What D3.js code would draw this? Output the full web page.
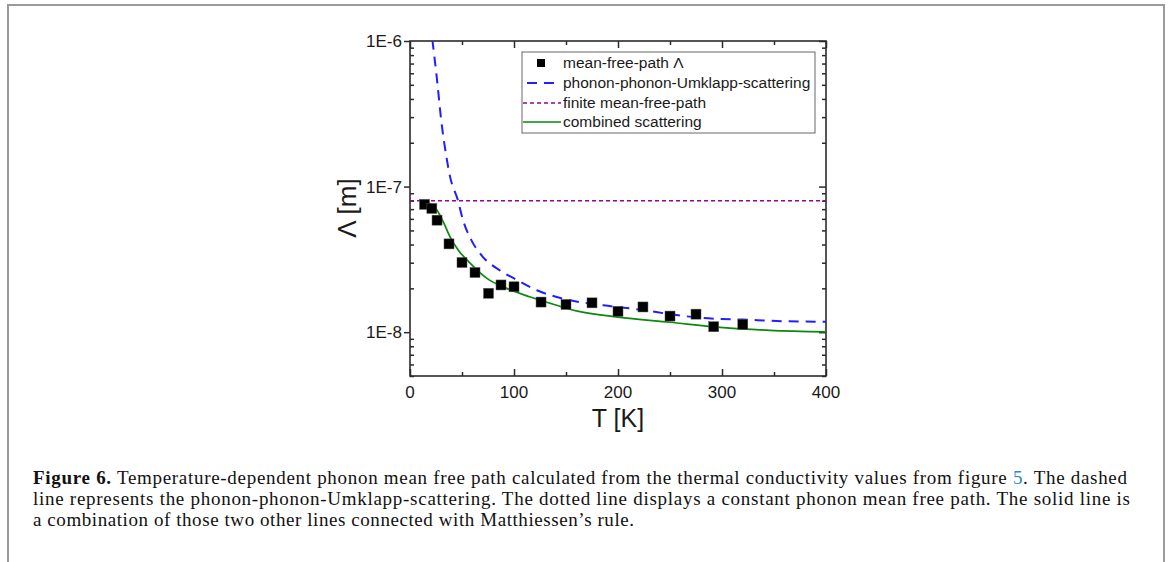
<!DOCTYPE html>
<html>
<head>
<meta charset="utf-8">
<script src="https://cdn.jsdelivr.net/npm/d3@7/dist/d3.min.js"></script>
<style>
  body { margin: 0; background: #fff; }
  svg { display: block; }
</style>
</head>
<body>
<div id="graph"></div>
<script>
const W = 1171
const H = 562

// measured mean free path
const tempK = [14, 21, 26, 37.5, 50, 62.5, 75.5, 87.5, 100, 126, 150, 175, 200, 224, 250, 275, 292, 320]
const mfp = [7.55e-8, 7.08e-8, 5.88e-8, 4.04e-8, 3.01e-8, 2.57e-8, 1.85e-8, 2.11e-8, 2.05e-8, 1.61e-8,
             1.55e-8, 1.59e-8, 1.39e-8, 1.49e-8, 1.29e-8, 1.33e-8, 1.09e-8, 1.13e-8]

// phonon-phonon-Umklapp-scattering (dashed)
const umklappT = [21.5, 26, 30, 35, 38.5, 46, 51, 59, 70, 86, 103, 122, 147, 186, 224, 250, 282, 320, 359, 400]
const umklappL = [1.02e-6, 5.4e-7, 2.86e-7, 1.6e-7, 1.17e-7, 8.08e-8, 5.88e-8, 4.29e-8, 3.29e-8, 2.67e-8,
                  2.28e-8, 1.94e-8, 1.7e-8, 1.53e-8, 1.42e-8, 1.33e-8, 1.25e-8, 1.22e-8, 1.19e-8, 1.18e-8]

// finite mean-free-path (dotted)
const finiteT = [0, 400]
const finiteL = [8e-8, 8e-8]

// combined scattering (solid)
const combinedT = [11, 19, 26, 32, 38.5, 46.5, 58, 74, 93, 115, 141, 160, 200, 250, 298, 346, 400]
const combinedL = [7.98e-8, 7.67e-8, 6.89e-8, 5.73e-8, 4.52e-8, 3.66e-8, 2.97e-8, 2.34e-8, 2.0e-8, 1.75e-8,
                   1.53e-8, 1.4e-8, 1.27e-8, 1.17e-8, 1.08e-8, 1.03e-8, 1.005e-8]

const xTicks = [0, 100, 200, 300, 400]
const yTicks = [1e-8, 1e-7, 1e-6]
const yTickLabels = ['1E-8', '1E-7', '1E-6']

const legendNames = ['mean-free-path \u039B', 'phonon-phonon-Umklapp-scattering', 'finite mean-free-path', 'combined scattering']

const captionLines = [
  [['b', 'Figure 6.'], ['n', ' Temperature-dependent phonon mean free path calculated from the thermal conductivity values from figure '], ['l', '5'], ['n', '. The dashed']],
  [['n', 'line represents the phonon-phonon-Umklapp-scattering. The dotted line displays a constant phonon mean free path. The solid line is']],
  [['n', 'a combination of those two other lines connected with Matthiessen\u2019s rule.']]
]

const plot = { left: 410, top: 41, right: 826, bottom: 376 }
const AXIS = '#2b2b2b'
const SANS = 'Liberation Sans, Arial, sans-serif'

const svg = d3.select('#graph').append('svg')
  .attr('width', W).attr('height', H)

// page frame
svg.append('path')
  .attr('d', `M8,${H + 5} L8,5 L1164,5 L1164,${H + 5}`)
  .attr('fill', 'none').attr('stroke', '#9a9a9a').attr('stroke-width', 2)

const x = d3.scaleLinear().domain([0, 400]).range([plot.left, plot.right])
const y = d3.scaleLog().domain([5e-9, 1e-6]).range([plot.bottom, plot.top])

svg.append('clipPath').attr('id', 'clip')
  .append('rect')
  .attr('x', plot.left).attr('y', plot.top)
  .attr('width', plot.right - plot.left).attr('height', plot.bottom - plot.top)

const minorY = []
for (let e = -9; e <= -7; e++) {
  for (let m = 1; m <= 9; m++) {
    const v = m * Math.pow(10, e)
    if (v >= 5e-9 && v <= 1e-6 && m !== 1) minorY.push(v)
  }
}
const minorX = [50, 150, 250, 350]

// axes
const gAx = svg.append('g')
gAx.append('g').attr('transform', `translate(0,${plot.bottom})`)
  .call(d3.axisBottom(x).tickValues(xTicks).tickSize(-7).tickFormat(''))
gAx.append('g').attr('transform', `translate(0,${plot.bottom})`)
  .call(d3.axisBottom(x).tickValues(minorX).tickSize(-4).tickFormat(''))
gAx.append('g').attr('transform', `translate(0,${plot.top})`)
  .call(d3.axisTop(x).tickValues(xTicks).tickSize(-7).tickFormat(''))
gAx.append('g').attr('transform', `translate(0,${plot.top})`)
  .call(d3.axisTop(x).tickValues(minorX).tickSize(-4).tickFormat(''))
gAx.append('g').attr('transform', `translate(${plot.left},0)`)
  .call(d3.axisLeft(y).tickValues(yTicks).tickSize(6).tickFormat(''))
gAx.append('g').attr('transform', `translate(${plot.left},0)`)
  .call(d3.axisLeft(y).tickValues(minorY).tickSize(-4).tickFormat(''))
gAx.append('g').attr('transform', `translate(${plot.right},0)`)
  .call(d3.axisRight(y).tickValues(yTicks).tickSize(-7).tickFormat(''))
gAx.append('g').attr('transform', `translate(${plot.right},0)`)
  .call(d3.axisRight(y).tickValues(minorY).tickSize(-4).tickFormat(''))
gAx.selectAll('.domain').remove()
gAx.selectAll('line').attr('stroke', AXIS).attr('stroke-width', 1.5)
gAx.append('rect')
  .attr('x', plot.left).attr('y', plot.top)
  .attr('width', plot.right - plot.left).attr('height', plot.bottom - plot.top)
  .attr('fill', 'none').attr('stroke', AXIS).attr('stroke-width', 1.6)

// tick labels
svg.append('g').selectAll('text').data(xTicks).enter().append('text')
  .attr('x', d => x(d)).attr('y', plot.bottom + 22)
  .attr('text-anchor', 'middle')
  .attr('font-family', SANS).attr('font-size', 17).attr('fill', '#1a1a1a')
  .text(d => d)
svg.append('g').selectAll('text').data(yTicks).enter().append('text')
  .attr('x', plot.left - 8).attr('y', d => y(d) + 6)
  .attr('text-anchor', 'end')
  .attr('font-family', SANS).attr('font-size', 17).attr('fill', '#1a1a1a')
  .text((d, i) => yTickLabels[i])

// axis titles
svg.append('text')
  .attr('x', (plot.left + plot.right) / 2).attr('y', 427)
  .attr('text-anchor', 'middle')
  .attr('font-family', SANS).attr('font-size', 25).attr('fill', '#1a1a1a')
  .text('T [K]')
svg.append('text')
  .attr('transform', `translate(356,208) rotate(-90)`)
  .attr('text-anchor', 'middle')
  .attr('font-family', SANS).attr('font-size', 26).attr('fill', '#1a1a1a')
  .text('\u039B [m]')

// series
const gData = svg.append('g').attr('clip-path', 'url(#clip)')
const line = d3.line().x(d => x(d[0])).y(d => y(d[1])).curve(d3.curveMonotoneX)

gData.append('path')
  .datum(finiteT.map((t, i) => [t, finiteL[i]]))
  .attr('d', line)
  .attr('fill', 'none').attr('stroke', '#990099').attr('stroke-width', 1.6)
  .attr('stroke-dasharray', '4,3')

gData.append('path')
  .datum(umklappT.map((t, i) => [t, umklappL[i]]))
  .attr('d', line)
  .attr('fill', 'none').attr('stroke', '#1f1fff').attr('stroke-width', 2)
  .attr('stroke-dasharray', '10,7')

gData.append('path')
  .datum(combinedT.map((t, i) => [t, combinedL[i]]))
  .attr('d', line)
  .attr('fill', 'none').attr('stroke', '#0a8a0a').attr('stroke-width', 1.7)

gData.selectAll('.pt').data(tempK).enter().append('rect')
  .attr('class', 'pt')
  .attr('x', d => x(d) - 5)
  .attr('y', (d, i) => y(mfp[i]) - 5)
  .attr('width', 10).attr('height', 10)
  .attr('fill', '#000').attr('stroke', '#555').attr('stroke-width', 0.5)

// legend
const lg = svg.append('g')
lg.append('rect')
  .attr('x', 522).attr('y', 52).attr('width', 293).attr('height', 81)
  .attr('fill', '#fff').attr('stroke', '#666').attr('stroke-width', 1)
const rowY = [63, 83, 103, 122]
lg.append('rect').attr('x', 537).attr('y', rowY[0] - 4).attr('width', 8).attr('height', 8).attr('fill', '#000')
lg.append('line').attr('x1', 523).attr('x2', 561).attr('y1', rowY[1]).attr('y2', rowY[1])
  .attr('stroke', '#1f1fff').attr('stroke-width', 2).attr('stroke-dasharray', '10,7').attr('stroke-dashoffset', -4)
lg.append('line').attr('x1', 523).attr('x2', 561).attr('y1', rowY[2]).attr('y2', rowY[2])
  .attr('stroke', '#990099').attr('stroke-width', 1.6).attr('stroke-dasharray', '4,3')
lg.append('line').attr('x1', 523).attr('x2', 561).attr('y1', rowY[3]).attr('y2', rowY[3])
  .attr('stroke', '#0a8a0a').attr('stroke-width', 1.7)
lg.selectAll('.lt').data(legendNames).enter().append('text')
  .attr('x', 563).attr('y', (d, i) => rowY[i] + 5)
  .attr('font-family', SANS).attr('font-size', 15.5).attr('fill', '#1a1a1a')
  .text(d => d)

// caption
const capY = [484, 505, 526]
const capLen = [1094, 1097, 601]
captionLines.forEach((parts, i) => {
  const t = svg.append('text')
    .attr('x', 33).attr('y', capY[i])
    .attr('font-family', 'Liberation Serif, Times New Roman, serif')
    .attr('font-size', 19).attr('fill', '#111')
  if (capLen[i]) t.attr('textLength', capLen[i]).attr('lengthAdjust', 'spacing')
  parts.forEach(p => {
    t.append('tspan')
      .attr('font-weight', p[0] === 'b' ? 'bold' : 'normal')
      .attr('fill', p[0] === 'l' ? '#2a88c8' : '#111')
      .text(p[1])
  })
})
</script>
</body>
</html>
